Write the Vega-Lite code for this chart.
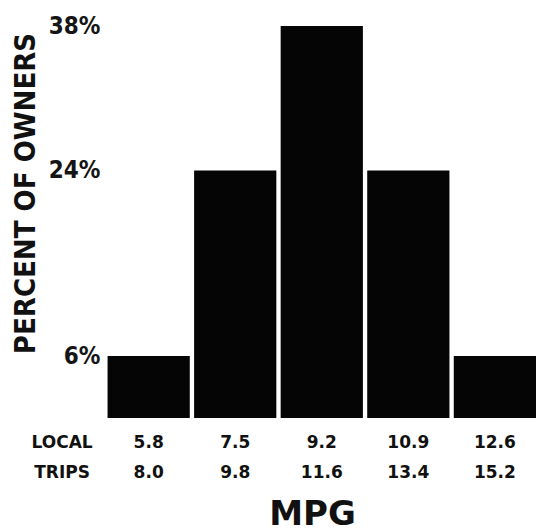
{
  "$schema": "https://vega.github.io/schema/vega-lite/v6.json",
  "width": 515,
  "height": 392,
  "autosize": "none",
  "padding": {"left": 21, "top": 26, "right": 0, "bottom": 114},
  "background": "#ffffff",
  "config": {"view": {"stroke": null}},
  "data": {
    "values": [
      {"mpg": "5.8|8.0", "pct": 6},
      {"mpg": "7.5|9.8", "pct": 24},
      {"mpg": "9.2|11.6", "pct": 38},
      {"mpg": "10.9|13.4", "pct": 24},
      {"mpg": "12.6|15.2", "pct": 6}
    ]
  },
  "mark": {"type": "bar", "color": "#050505"},
  "encoding": {
    "x": {
      "field": "mpg",
      "type": "nominal",
      "sort": null,
      "scale": {
        "domain": ["LOCAL|TRIPS", "5.8|8.0", "7.5|9.8", "9.2|11.6", "10.9|13.4", "12.6|15.2"],
        "paddingInner": 0.05,
        "paddingOuter": 0
      },
      "axis": {
        "title": "MPG",
        "labelAngle": 0,
        "labelExpr": "split(datum.value, '|')",
        "domain": false,
        "ticks": false,
        "labelPadding": 16,
        "labelLineHeight": 30,
        "labelFont": "DejaVu Sans",
        "labelFontWeight": "bold",
        "labelFontSize": 17,
        "labelColor": "#111111",
        "titleFont": "DejaVu Sans",
        "titleFontWeight": "bold",
        "titleFontSize": 34,
        "titleColor": "#111111",
        "titleX": 291,
        "titleY": 106,
        "titleBaseline": "alphabetic",
        "titleAlign": "center",
        "encode": {
          "labels": {
            "update": {
              "dx": {"signal": "datum.value === 'LOCAL|TRIPS' ? 35 : datum.value === '5.8|8.0' ? -5 : datum.value === '7.5|9.8' ? -6 : datum.value === '9.2|11.6' ? -9 : datum.value === '10.9|13.4' ? -13 : -20"},
              "align": {"signal": "datum.value === 'LOCAL|TRIPS' ? 'right' : 'center'"}
            }
          }
        }
      }
    },
    "y": {
      "field": "pct",
      "type": "quantitative",
      "scale": {"domain": [0, 38], "nice": false},
      "axis": {
        "title": "PERCENT OF OWNERS",
        "values": [6, 24, 38],
        "labelExpr": "datum.value + '%'",
        "offset": -83,
        "domain": false,
        "ticks": false,
        "grid": false,
        "labelPadding": 4,
        "labelBaseline": "middle",
        "labelFont": "DejaVu Sans Condensed",
        "labelFontWeight": "bold",
        "labelFontSize": 24,
        "labelColor": "#151515",
        "titleFont": "DejaVu Sans Condensed",
        "titleFontWeight": "bold",
        "titleFontSize": 29,
        "titleColor": "#111111",
        "titleX": -70,
        "titleY": 167,
        "titleAngle": -90,
        "titleAlign": "center",
        "titleBaseline": "alphabetic"
      }
    }
  }
}
